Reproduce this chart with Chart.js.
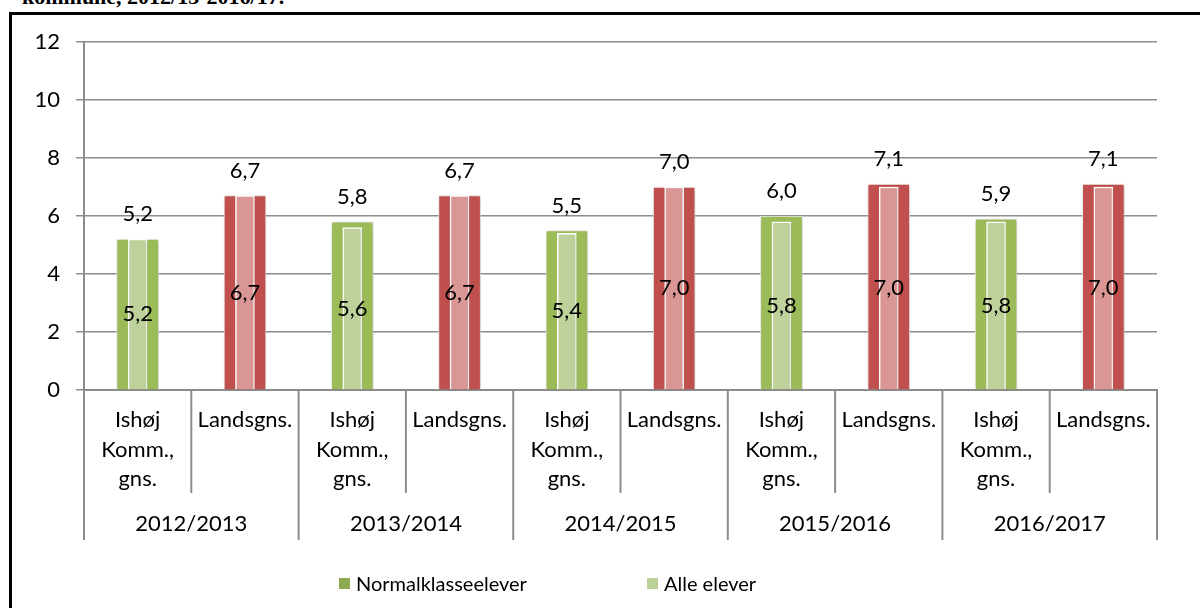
<!DOCTYPE html>
<html>
<head>
<meta charset="utf-8">
<script src="https://cdn.jsdelivr.net/npm/chart.js@4.4.1/dist/chart.umd.min.js"></script>
<style>
    html, body {
        margin: 0;
        padding: 0;
        background: #ffffff;
        width: 1200px;
        height: 608px;
        overflow: hidden;
        position: relative;
        font-family: Lato, "Liberation Sans", sans-serif;
    }
    #title {
        position: absolute;
        left: 22px;
        top: -14px;
        font: bold 22px/22px "Liberation Serif", serif;
        white-space: nowrap;
        color: #000;
    }
    #frame {
        position: absolute;
        left: 9px;
        top: 12px;
        width: 1300px;
        height: 700px;
        border: 3px solid #000;
    }
    #wrap {
        position: absolute;
        left: 0;
        top: 0;
        width: 1200px;
        height: 608px;
    }
    #legend {
        position: absolute;
        left: 339px;
        top: 571px;
        display: flex;
    }
    .item {
        width: 308px;
        display: flex;
        align-items: center;
        font-size: 20px;
        color: #000;
    }
    .box {
        width: 11px;
        height: 11px;
        margin-right: 6px;
    }
</style>
</head>
<body>
<div id="title">kommune, 2012/13-2016/17.</div>
<div id="frame"></div>
<div id="wrap"><canvas id="chart"></canvas></div>
<div id="legend"></div>

<script>
/* =========================
   DATA
========================= */

const years = ["2012/2013", "2013/2014", "2014/2015", "2015/2016", "2016/2017"];

const categories = [
    ["Ishøj", "Komm.,", "gns."], "Landsgns.",
    ["Ishøj", "Komm.,", "gns."], "Landsgns.",
    ["Ishøj", "Komm.,", "gns."], "Landsgns.",
    ["Ishøj", "Komm.,", "gns."], "Landsgns.",
    ["Ishøj", "Komm.,", "gns."], "Landsgns."
];

const normalklasse = [5.2, 6.7, 5.8, 6.7, 5.5, 7.0, 6.0, 7.1, 5.9, 7.1];
const alleElever   = [5.2, 6.7, 5.6, 6.7, 5.4, 7.0, 5.8, 7.0, 5.8, 7.0];

const seriesNames = ["Normalklasseelever", "Alle elever"];

/* =========================
   STYLE
========================= */

const gridColor = "#8c8c8c";
const fontFamily = "Lato, 'Liberation Sans', sans-serif";
const fontSize = 22;

const outerColors = categories.map((c, i) => i % 2 === 0 ? "#9bbb59" : "#c0504d");
const innerColors = categories.map((c, i) => i % 2 === 0 ? "#bed19b" : "#da9694");
const legendColors = ["#8eaa50", "#bad096"];

const fmt = v => v.toFixed(1).replace(".", ",");

/* =========================
   PLUGINS
========================= */

const barShadow = {
    id: "barShadow",
    beforeDatasetDraw(chart, args) {
        const ctx = chart.ctx;
        ctx.save();
        ctx.shadowColor = "rgba(0,0,0,0.28)";
        ctx.shadowBlur = 5;
        ctx.shadowOffsetX = 1;
        ctx.shadowOffsetY = 1;
        if (args.index === 1) {
            ctx.shadowColor = "rgba(0,0,0,0.12)";
            ctx.shadowBlur = 2;
        }
    },
    afterDatasetDraw(chart) {
        chart.ctx.restore();
    }
};

const separators = {
    id: "separators",
    afterDraw(chart) {
        const { ctx, chartArea } = chart;
        const x = chart.scales.x;
        const x2 = chart.scales.x2;
        const n = categories.length;
        const perYear = n / years.length;

        ctx.save();
        ctx.strokeStyle = gridColor;
        ctx.lineWidth = 2;

        for (let i = 0; i <= n; i++) {
            let px;
            if (i === 0) px = chartArea.left;
            else if (i === n) px = chartArea.right;
            else px = (x.getPixelForValue(i - 1) + x.getPixelForValue(i)) / 2;

            const bottom = i % perYear === 0 ? x2.bottom : x.bottom;

            ctx.beginPath();
            ctx.moveTo(px, chartArea.bottom);
            ctx.lineTo(px, bottom);
            ctx.stroke();
        }
        ctx.restore();
    }
};

const valueLabels = {
    id: "valueLabels",
    afterDatasetsDraw(chart) {
        const ctx = chart.ctx;
        ctx.save();
        ctx.font = fontSize + "px " + fontFamily;
        ctx.fillStyle = "#000";
        ctx.textAlign = "center";
        ctx.textBaseline = "middle";

        chart.getDatasetMeta(0).data.forEach((bar, i) => {
            ctx.fillText(fmt(normalklasse[i]), bar.x, bar.y - 25);
        });

        chart.getDatasetMeta(1).data.forEach((bar, i) => {
            ctx.fillText(fmt(alleElever[i]), bar.x, (bar.y + bar.base) / 2);
        });

        ctx.restore();
    }
};

/* =========================
   CHART
========================= */

const ctx = document.getElementById("chart");

new Chart(ctx, {

    type: "bar",

    data: {
        labels: categories,
        datasets: [
            {
                label: seriesNames[0],
                data: normalklasse,
                backgroundColor: outerColors,
                borderColor: "rgba(255,255,255,0.85)",
                borderWidth: 1,
                barThickness: 42,
                grouped: false,
                order: 1
            },
            {
                label: seriesNames[1],
                data: alleElever,
                backgroundColor: innerColors,
                borderColor: "#ffffff",
                borderWidth: 1.5,
                barThickness: 19,
                grouped: false,
                order: 0
            }
        ]
    },

    options: {
        responsive: true,
        maintainAspectRatio: false,
        animation: false,
        devicePixelRatio: 1,

        layout: {
            padding: { left: 0, right: 43, top: 42, bottom: 68 }
        },

        plugins: {
            legend: { display: false },
            tooltip: { enabled: false }
        },

        scales: {

            x: {
                type: "category",
                position: "bottom",
                weight: 0,
                offset: true,
                grid: { display: false },
                border: { display: true, color: gridColor, width: 2 },
                ticks: {
                    color: "#000",
                    font: { family: fontFamily, size: fontSize, lineHeight: 1.35 },
                    padding: 7,
                    maxRotation: 0,
                    autoSkip: false
                },
                afterFit(scale) {
                    scale.height = 103;
                }
            },

            x2: {
                type: "category",
                position: "bottom",
                weight: 1,
                labels: years,
                offset: true,
                grid: { display: false },
                border: { display: false },
                ticks: {
                    color: "#000",
                    font: { family: fontFamily, size: fontSize },
                    padding: 10,
                    maxRotation: 0,
                    autoSkip: false
                },
                afterFit(scale) {
                    scale.height = 47;
                }
            },

            y: {
                min: 0,
                max: 12,
                ticks: {
                    stepSize: 2,
                    color: "#000",
                    font: { family: fontFamily, size: fontSize },
                    padding: 16
                },
                grid: {
                    color: gridColor,
                    lineWidth: 1.5,
                    tickLength: 8
                },
                border: { display: true, color: gridColor, width: 2 },
                afterFit(scale) {
                    scale.width = 84;
                }
            }
        }
    },

    plugins: [barShadow, separators, valueLabels]

});

/* =========================
   LEGEND
========================= */

const legend = document.getElementById("legend");

seriesNames.forEach((name, i) => {
    const item = document.createElement("div");
    item.className = "item";
    const box = document.createElement("span");
    box.className = "box";
    box.style.background = legendColors[i];
    const text = document.createElement("span");
    text.textContent = name;
    item.appendChild(box);
    item.appendChild(text);
    legend.appendChild(item);
});
</script>
</body>
</html>
